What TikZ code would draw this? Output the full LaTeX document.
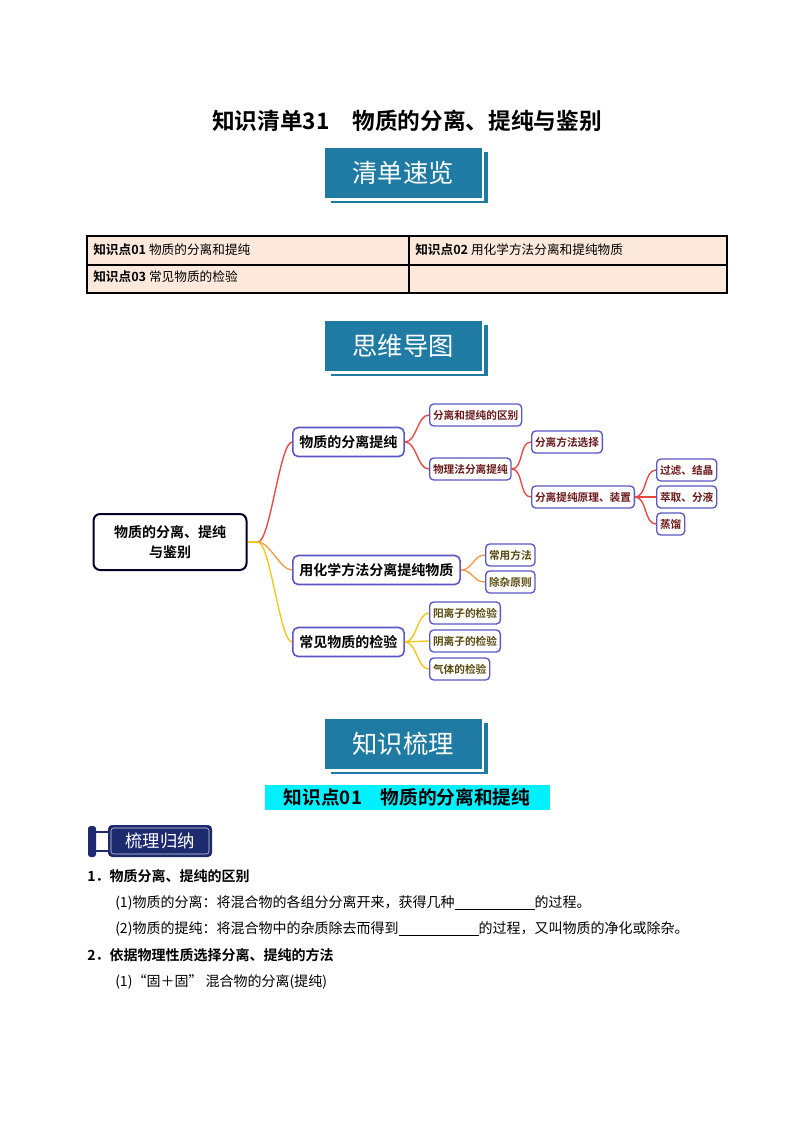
\documentclass[tikz,border=0pt]{standalone}
\usepackage{fontspec}
\setmainfont{Noto Sans CJK SC}[BoldFont={Noto Sans CJK SC Bold}]
\usetikzlibrary{positioning}
\definecolor{teal1}{HTML}{1F7BA3}
\definecolor{navy1}{HTML}{1E2A6E}
\definecolor{peach}{HTML}{FCE9DC}
\definecolor{bord}{HTML}{5B57C8}
\definecolor{rd}{HTML}{E8473F}
\definecolor{og}{HTML}{F39A4B}
\definecolor{yl}{HTML}{F5C518}
\definecolor{drd}{HTML}{6B1A1A}
\definecolor{dol}{HTML}{5A4A10}
\definecolor{hl}{HTML}{00F0FF}
\tikzset{
 banner/.style={fill=teal1,text=white,font=\fontsize{19}{19}\selectfont,minimum width=157*0.75pt,minimum height=50*0.75pt,inner sep=0pt},
 l1/.style={draw=bord,line width=1.2pt,rounded corners=4pt,fill=white,font=\fontsize{10.5}{12}\selectfont\bfseries,minimum height=29*0.75pt,inner xsep=5pt},
 l2/.style={draw=bord,line width=1pt,rounded corners=3pt,fill=white,font=\fontsize{8}{9}\selectfont\bfseries,minimum height=22*0.75pt,inner xsep=2.5pt,inner ysep=0pt},
 ed/.style={line width=1pt,to path={(\tikztostart) .. controls +(12,0) and +(-12,0) .. (\tikztotarget)}},
 body/.style={anchor=west,font=\fontsize{10.5}{12}\selectfont,inner sep=0pt},
}
\begin{document}
\begin{tikzpicture}[x=0.75pt,y=-0.75pt]
\useasboundingbox[fill=white] (0,0) rectangle (800,1132);
\node[font=\fontsize{17}{17}\selectfont\bfseries] (title) at (407,121) {知识清单31\quad 物质的分离、提纯与鉴别};
% banners
\foreach \y/\t/\n in {173/清单速览/b1,346/思维导图/b2,744/知识梳理/b3}{
 \fill[teal1] (331,\y-21) rectangle (488,\y+30);
 \fill[white] (322,\y-29) rectangle (484,\y+28);
 \node[banner] (\n) at (403,\y) {\t};
}
% table
\fill[peach] (87,236) rectangle (727,293);
\draw[line width=1.5pt] (87,236) rectangle (727,293);
\draw[line width=1pt] (87,265) -- (727,265) (409,236) -- (409,293);
\node[body,font=\fontsize{9.5}{11}\selectfont] (t1) at (93,250) {\textbf{知识点01} 物质的分离和提纯};
\node[body,font=\fontsize{9.5}{11}\selectfont] (t2) at (415,250) {\textbf{知识点02} 用化学方法分离和提纯物质};
\node[body,font=\fontsize{9.5}{11}\selectfont] (t3) at (93,277) {\textbf{知识点03} 常见物质的检验};
% mind map
\node[draw=black!85!blue,line width=1.5pt,rounded corners=5pt,minimum width=153*0.75pt,minimum height=56*0.75pt,align=center,font=\fontsize{10.5}{15}\selectfont\bfseries] (root) at (170,542) {物质的分离、提纯\\与鉴别};
\node[l1,anchor=west] (a) at (292,442) {物质的分离提纯};
\node[l1,anchor=west] (b) at (292,570) {用化学方法分离提纯物质};
\node[l1,anchor=west] (c) at (292,642) {常见物质的检验};
\node[l2,anchor=west,text=drd] (a1) at (429,415) {分离和提纯的区别};
\node[l2,anchor=west,text=drd] (a2) at (429,469) {物理法分离提纯};
\node[l2,anchor=west,text=drd] (a21) at (531,442) {分离方法选择};
\node[l2,anchor=west,text=drd] (a22) at (531,497) {分离提纯原理、装置};
\node[l2,anchor=west,text=drd] (x1) at (656,470) {过滤、结晶};
\node[l2,anchor=west,text=drd] (x2) at (656,497) {萃取、分液};
\node[l2,anchor=west,text=drd] (x3) at (656,524) {蒸馏};
\node[l2,anchor=west,text=dol] (b1n) at (485,555) {常用方法};
\node[l2,anchor=west,text=dol] (b2n) at (485,582) {除杂原则};
\node[l2,anchor=west,text=dol] (c1) at (429,613) {阳离子的检验};
\node[l2,anchor=west,text=dol] (c2) at (429,641) {阴离子的检验};
\node[l2,anchor=west,text=dol] (c3) at (429,669) {气体的检验};
\coordinate (rf) at (258,542);
\draw[line width=1pt,yl] (root.east) -- (rf);
\draw[ed,rd] (rf) to (a.west);
\draw[ed,og] (rf) to (b.west);
\draw[ed,yl] (rf) to (c.west);
\foreach \p/\q in {a/a1,a/a2,a2/a21,a2/a22,a22/x1,a22/x2,a22/x3}{\draw[ed,rd] (\p.east) to (\q.west);}
\foreach \q in {b1n,b2n}{\draw[ed,og] (b.east) to (\q.west);}
\foreach \q in {c1,c2,c3}{\draw[ed,yl] (c.east) to (\q.west);}
% section heading
\fill[hl] (265,785) rectangle (550,810);
\node[font=\fontsize{14}{14}\selectfont\bfseries] (kd) at (407,797) {知识点01\quad 物质的分离和提纯};
% tag
\fill[navy1,rounded corners=2pt] (88,826) rectangle (96,857);
\draw[navy1,line width=1pt] (96,832) -- (108,832) (96,851) -- (108,851);
\fill[navy1,rounded corners=3pt] (108,825) rectangle (212,857);
\draw[white!80!navy1,rounded corners=2pt] (111,828) rectangle (209,854);
\node[text=white,font=\fontsize{13}{13}\selectfont] (tag) at (160,841) {梳理归纳};
% body text
\node[body,font=\fontsize{10.5}{12}\selectfont\bfseries] (p1) at (87,876) {1．物质分离、提纯的区别};
\node[body] (p2) at (115,903) {(1)物质的分离：将混合物的各组分分离开来，获得几种\underline{\hspace{60pt}}的过程。};
\node[body] (p3) at (115,929) {(2)物质的提纯：将混合物中的杂质除去而得到\underline{\hspace{60pt}}的过程，又叫物质的净化或除杂。};
\node[body,font=\fontsize{10.5}{12}\selectfont\bfseries] (p4) at (87,955) {2．依据物理性质选择分离、提纯的方法};
\node[body] (p5) at (115,982) {(1)“固＋固” 混合物的分离(提纯)};
\end{tikzpicture}
\end{document}
